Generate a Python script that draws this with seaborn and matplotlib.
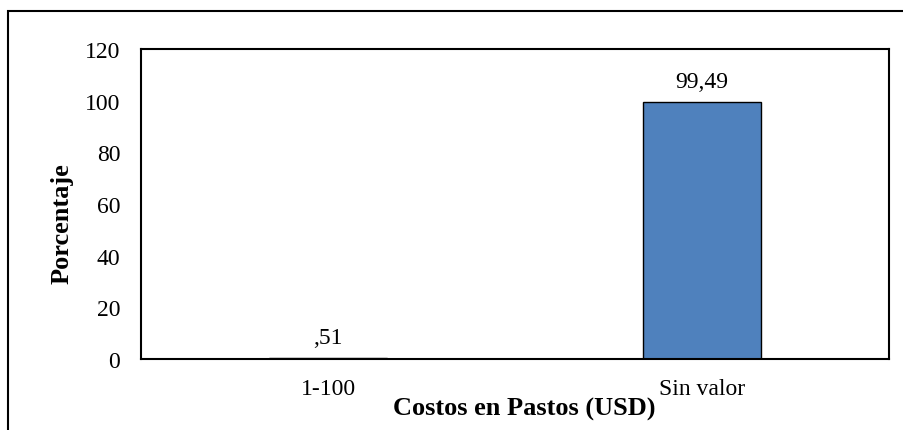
import matplotlib
matplotlib.use("Agg")
import matplotlib.pyplot as plt
import seaborn as sns
from matplotlib.patches import Rectangle

# Datos
categorias = ["1-100", "Sin valor"]
porcentajes = [0.51, 99.49]
etiquetas = [",51", "99,49"]
y_ticks = [0, 20, 40, 60, 80, 100, 120]

sns.set_style("white")
plt.rcParams["font.family"] = ["Liberation Serif", "DejaVu Serif"]
plt.rcParams["text.color"] = "black"
plt.rcParams["xtick.color"] = "black"
plt.rcParams["ytick.color"] = "black"
plt.rcParams["axes.labelcolor"] = "black"

fig = plt.figure(figsize=(9.04, 4.31), dpi=100)
ax = fig.add_axes([141 / 904, 1 - 360 / 431, 748 / 904, 310 / 431])

sns.barplot(x=categorias, y=porcentajes, color="#4F81BD", saturation=1,
            edgecolor="black", linewidth=1.0, width=0.315, ax=ax)

ax.bar_label(ax.containers[0], labels=etiquetas, padding=7, fontsize=17)

ax.set_ylim(0, 120)
ax.set_yticks(y_ticks)
ax.set_xlim(-0.5, 1.5)
ax.tick_params(axis="both", length=0, labelsize=17)
ax.tick_params(axis="x", pad=14)
ax.tick_params(axis="y", pad=15)
for s in ax.spines.values():
    s.set_visible(True)
    s.set_color("black")
    s.set_linewidth(1.5)

ax.set_xlabel("Costos en Pastos (USD)", fontsize=19, fontweight="bold")
ax.set_ylabel("Porcentaje", fontsize=19, fontweight="bold")
ax.xaxis.set_label_coords(0.513, -0.121)
ax.yaxis.set_label_coords(-0.09, 0.44)

# Marco exterior del gráfico
fig.patches.append(Rectangle((8 / 904, -0.1), 1.0, 1 - 12 / 431 + 0.1,
                             transform=fig.transFigure, fill=False,
                             edgecolor="black", linewidth=1.5))

fig.savefig("out.png", dpi=100)
